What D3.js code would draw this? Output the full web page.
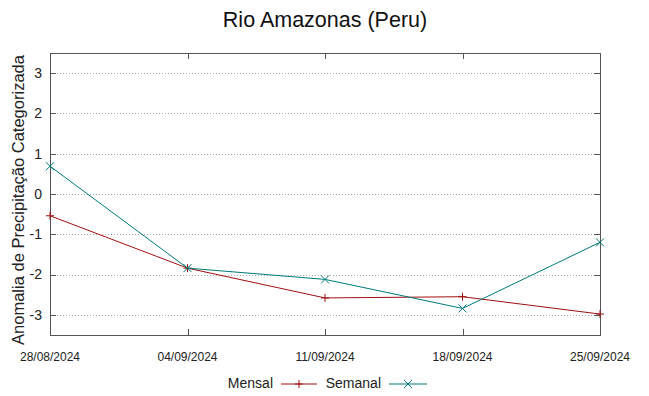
<!DOCTYPE html>
<html><head><meta charset="utf-8">
<script src="https://cdn.jsdelivr.net/npm/d3@7"></script>
<style>body{margin:0;background:#fff}svg{display:block;font-family:"Liberation Sans",Arial,sans-serif}</style>
</head><body><svg id="c" width="649" height="396"></svg>
<script>
const dates = ["2024-08-28","2024-09-04","2024-09-11","2024-09-18","2024-09-25"];
const mensal = [-0.54,-1.84,-2.58,-2.55,-2.98];
const semanal = [0.69,-1.84,-2.12,-2.84,-1.20];
const yTicks = [-3,-2,-1,0,1,2,3];
const title = "Rio Amazonas (Peru)";
const yLabel = "Anomalia de Precipitação Categorizada";

const svg = d3.select("#c");
const L=50,R=600,T=53,B=335;
const parse=d3.timeParse("%Y-%m-%d");
const xd=dates.map(parse);
const x=d3.scaleTime().domain(d3.extent(xd)).range([L,R]);
const y=d3.scaleLinear().domain([-3.5,3.5]).range([B,T]);
const fmt=d3.timeFormat("%d/%m/%Y");

// grid
svg.append("g").selectAll("line").data(yTicks).join("line")
 .attr("x1",L+7).attr("x2",R-7).attr("y1",d=>Math.round(y(d))+0.5).attr("y2",d=>Math.round(y(d))+0.5)
 .attr("stroke","#a8a8a8").attr("stroke-width",1).attr("stroke-dasharray","1,2");

// ticks inward
const tk=svg.append("g").attr("stroke","#555");
yTicks.forEach(d=>{const yy=Math.round(y(d))+0.5;
 tk.append("line").attr("x1",L).attr("x2",L+6).attr("y1",yy).attr("y2",yy);
 tk.append("line").attr("x1",R-6).attr("x2",R).attr("y1",yy).attr("y2",yy);});
xd.forEach(d=>{const xx=Math.round(x(d))+0.5;
 tk.append("line").attr("x1",xx).attr("x2",xx).attr("y1",B).attr("y2",B-6);
 tk.append("line").attr("x1",xx).attr("x2",xx).attr("y1",T).attr("y2",T+6);});

// border
svg.append("rect").attr("x",L+0.5).attr("y",T+0.5).attr("width",R-L).attr("height",B-T)
 .attr("fill","none").attr("stroke","#555").attr("stroke-width",1);

// y tick labels
svg.append("g").selectAll("text").data(yTicks).join("text")
 .attr("x",42).attr("y",d=>y(d)).attr("dy","0.35em").attr("text-anchor","end")
 .attr("font-size",14).attr("fill","#222").text(d=>d);
// x tick labels
svg.append("g").selectAll("text").data(xd).join("text")
 .attr("x",d=>x(d)).attr("y",361).attr("text-anchor","middle")
 .attr("font-size",12).attr("fill","#222").text(d=>fmt(d));

// title
svg.append("text").attr("x",325).attr("y",27).attr("text-anchor","middle")
 .attr("font-size",21.5).attr("fill","#111").text(title);
// y label
svg.append("text").attr("transform","translate(24,200) rotate(-90)").attr("text-anchor","middle")
 .attr("font-size",16.5).attr("fill","#222").text(yLabel);

const line=d3.line().x(d=>x(d[0])).y(d=>y(d[1]));
const series=[{name:"Mensal",vals:mensal,color:"#a01010",mk:"plus"},
              {name:"Semanal",vals:semanal,color:"#007a7a",mk:"x"}];
function marker(g,cx,cy,type,color){
 const s=4;
 if(type==="plus"){
  g.append("path").attr("d",`M${cx-s},${cy}H${cx+s}M${cx},${cy-s}V${cy+s}`).attr("stroke",color).attr("fill","none");
 } else {
  g.append("path").attr("d",`M${cx-s},${cy-s}L${cx+s},${cy+s}M${cx-s},${cy+s}L${cx+s},${cy-s}`).attr("stroke",color).attr("fill","none");
 }
}
series.forEach(s=>{
 const pts=xd.map((d,i)=>[d,s.vals[i]]);
 svg.append("path").datum(pts).attr("d",line).attr("fill","none").attr("stroke",s.color).attr("stroke-width",1);
 const g=svg.append("g");
 pts.forEach(p=>marker(g,x(p[0]),y(p[1]),s.mk,s.color));
});

// legend
const lg=svg.append("g");
[{s:series[0],tx:273,l1:281,l2:317},{s:series[1],tx:381,l1:389,l2:427}].forEach(o=>{
 lg.append("text").attr("x",o.tx).attr("y",388).attr("text-anchor","end").attr("font-size",14).attr("fill","#222").text(o.s.name);
 lg.append("line").attr("x1",o.l1).attr("x2",o.l2).attr("y1",384).attr("y2",384).attr("stroke",o.s.color).attr("stroke-width",1);
 marker(lg,(o.l1+o.l2)/2,384,o.s.mk,o.s.color);
});
</script></body></html>
